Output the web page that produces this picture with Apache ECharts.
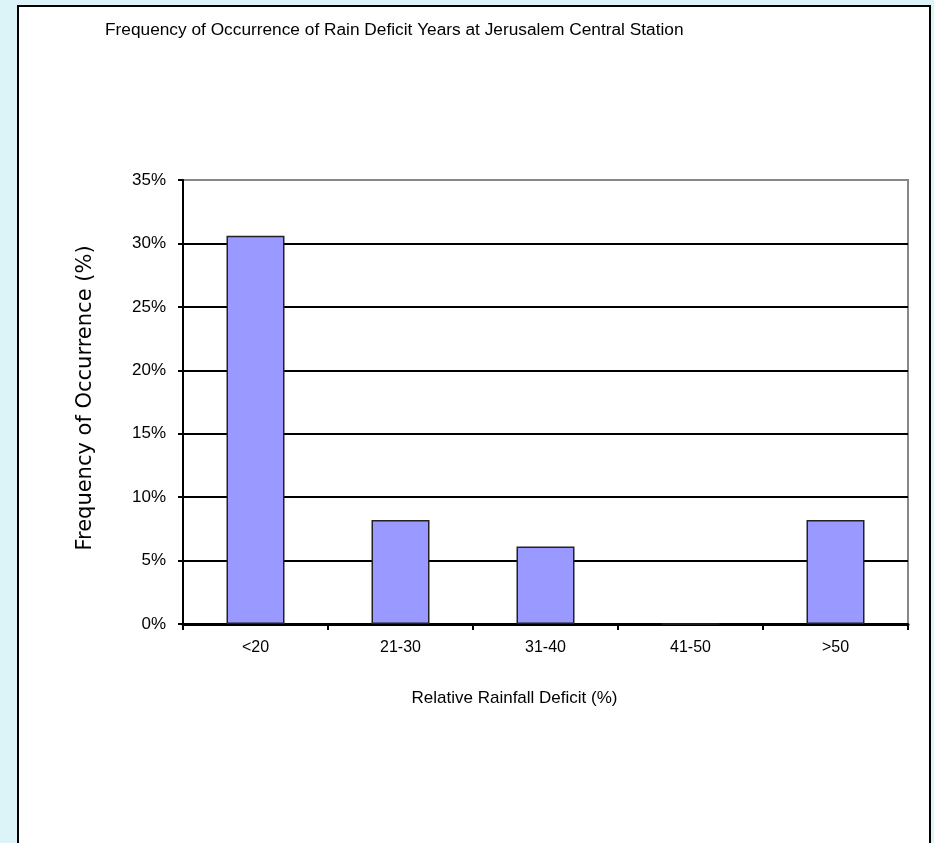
<!DOCTYPE html>
<html>
<head>
<meta charset="utf-8">
<script src="https://cdn.jsdelivr.net/npm/echarts@6/dist/echarts.min.js"></script>
<style>
html, body { margin: 0; padding: 0; background: #dcf4f8; }
#chart { width: 934px; height: 843px; }
</style>
</head>
<body>
<div id="chart"></div>
<script>
// deficit classes and their share of years (%)
var categories = ['<20', '21-30', '31-40', '41-50', '>50']
var frequency = [30.6, 8.2, 6.1, 0, 8.2]
var yTicks = [0, 5, 10, 15, 20, 25, 30, 35]

var chart = echarts.init(document.getElementById('chart'))
chart.setOption({
  backgroundColor: '#dcf4f8',
  animation: false,
  graphic: [
    {
      type: 'rect',
      left: 17, top: 5,
      shape: { width: 912, height: 860 },
      style: { fill: '#ffffff', stroke: '#000', lineWidth: 2 },
      z: -10
    }
  ],
  title: {
    text: 'Frequency of Occurrence of Rain Deficit Years at Jerusalem Central Station',
    left: 100,
    top: 17,
    textStyle: { fontFamily: 'Liberation Sans', fontSize: 17.3, fontWeight: 'normal', color: '#000' }
  },
  grid: {
    left: 183, top: 180, right: 26, bottom: 219,
    show: true, borderColor: '#888', borderWidth: 2
  },
  xAxis: {
    type: 'category',
    data: categories,
    name: 'Relative Rainfall Deficit (%)',
    nameLocation: 'middle',
    nameGap: 66,
    nameTextStyle: { fontFamily: 'Liberation Sans', fontSize: 17, color: '#000', padding: [0, 62, 0, 0] },
    axisLine: { lineStyle: { color: '#000', width: 3 } },
    axisTick: { show: true, length: 6, lineStyle: { color: '#000', width: 2 } },
    axisLabel: { fontFamily: 'Liberation Sans', fontSize: 16, color: '#000', margin: 16 }
  },
  yAxis: {
    type: 'value',
    min: 0, max: 35, interval: 5,
    name: 'Frequency of Occurrence (%)',
    nameLocation: 'middle',
    nameGap: 87,
    nameTextStyle: { fontFamily: 'DejaVu Sans', fontSize: 21, color: '#000', padding: [0, 0, 0, 8] },
    axisLine: { show: true, lineStyle: { color: '#000', width: 2 } },
    axisTick: { show: true, length: 5, lineStyle: { color: '#000', width: 2 } },
    axisLabel: {
      fontFamily: 'Liberation Sans', fontSize: 17, color: '#000', margin: 17,
      formatter: function (v) { return yTicks.indexOf(v) >= 0 ? v + '%' : '' }
    },
    splitLine: {
      show: true,
      lineStyle: { color: ['#000', '#000', '#000', '#000', '#000', '#000', '#000', '#888'], width: 2 }
    }
  },
  series: [
    {
      type: 'bar',
      data: frequency,
      barWidth: '40%',
      itemStyle: { color: '#9999ff', borderColor: '#222', borderWidth: 1.5 }
    }
  ]
})
</script>
</body>
</html>
